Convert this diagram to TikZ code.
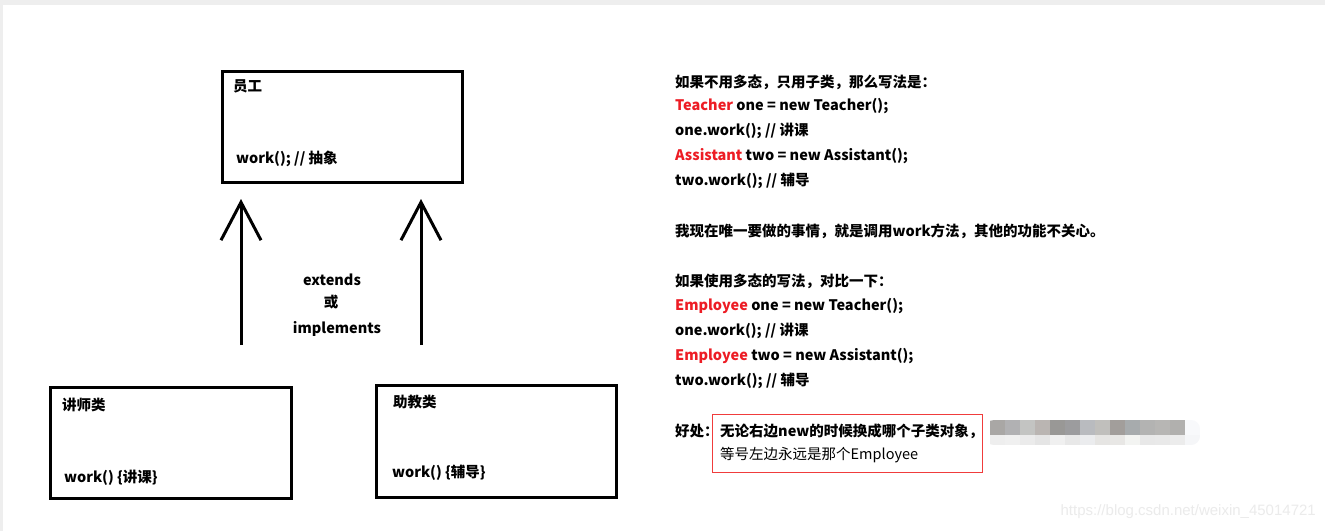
\documentclass[tikz,border=0pt]{standalone}
\usepackage{fontspec}
\setmainfont{Noto Sans CJK SC}
\newfontfamily\wmfont{Liberation Sans}
\usetikzlibrary{arrows.meta}
\definecolor{cred}{HTML}{ED1C24}
\definecolor{bxred}{HTML}{F03C3C}
\definecolor{edgegray}{HTML}{EEEEEE}
\definecolor{wm}{HTML}{EBEBEB}
\begin{document}
\begin{tikzpicture}[x=1pt,y=-1pt,
  umlbox/.style={draw=black, line width=3pt, fill=white, anchor=north west, inner sep=0pt},
  lbl/.style={anchor=west, inner sep=0pt, font=\fontsize{14.5}{16}\selectfont\bfseries},
  lblc/.style={anchor=center, inner sep=0pt, font=\fontsize{14.5}{16}\selectfont\bfseries},
  txt/.style={anchor=west, inner sep=0pt, font=\fontsize{14.5}{16}\selectfont\bfseries},
  arr/.style={line width=3pt, -{Straight Barb[length=38pt,width=40pt,line width=3pt]}}
]
\useasboundingbox (0,0) rectangle (1325,531);
\fill[white] (0,0) rectangle (1325,531);
\fill[edgegray] (0,0) rectangle (1325,5);
\fill[edgegray] (0,0) rectangle (3,531);

% boxes
\node[umlbox, minimum width=240pt, minimum height=111pt] (emp) at (220.5,69.5) {};
\node[umlbox, minimum width=241pt, minimum height=111pt] (tea) at (48.5,385.5) {};
\node[umlbox, minimum width=240pt, minimum height=112pt] (ast) at (374.5,383.5) {};

\node[lbl] (empt) at (233,86) {员工};
\node[lbl] (empm) at (236,159) {work(); // 抽象};
\node[lbl] (teat) at (62,405) {讲师类};
\node[lbl] (team) at (64,478) {work() \{讲课\}};
\node[lbl] (astt) at (393,402) {助教类};
\node[lbl] (astm) at (392,473) {work() \{辅导\}};

% arrows
\coordinate (a1s) at (241,345);
\coordinate (a1e) at (241,199);
\coordinate (a2s) at (421,345);
\coordinate (a2e) at (421,199);
\draw[arr] (a1s) -- (a1e);
\draw[arr] (a2s) -- (a2e);

\node[lblc] (ext) at (332,280) {extends};
\node[lblc] (huo) at (331,302) {或};
\node[lblc] (imp) at (337,329) {implements};

% right text
\node[txt] (r1) at (675,82) {如果不用多态，只用子类，那么写法是：};
\node[txt] (r2) at (675,106) {\textcolor{cred}{Teacher} one = new Teacher();};
\node[txt] (r3) at (675,131) {one.work(); // 讲课};
\node[txt] (r4) at (675,156) {\textcolor{cred}{Assistant} two = new Assistant();};
\node[txt] (r5) at (675,181) {two.work(); // 辅导};
\node[txt] (r6) at (675,231) {我现在唯一要做的事情，就是调用work方法，其他的功能不关心。};
\node[txt] (r7) at (675,281) {如果使用多态的写法，对比一下：};
\node[txt] (r8) at (675,306) {\textcolor{cred}{Employee} one = new Teacher();};
\node[txt] (r9) at (675,331) {one.work(); // 讲课};
\node[txt] (r10) at (675,356) {\textcolor{cred}{Employee} two = new Assistant();};
\node[txt] (r11) at (675,381) {two.work(); // 辅导};

% mosaic
\begin{scope}
\clip[rounded corners=9pt] (985,420) rectangle (1200,445);
\foreach \i/\c/\d in {0/A9A7A5/EEEEEE,1/B1B1B3/F0F0F0,2/C3C4C2/EBEBEB,3/BAB5B2/E5E5E5,4/999896/F0F0F0,5/9C9C9E/E8E8E8,6/B9BBBF/EBECEE,7/C0BFBC/E6E5E3,8/A29E9B/E8E7E5,9/A7ABAD/F3F4F2,10/B3B3B2/E8E8E8,11/B7B6B4/E9E9E9,12/B1B0AE/ECECEC,13/F8F9FB/F5F6F8}{
  \definecolor{mc}{HTML}{\c}\definecolor{md}{HTML}{\d}
  \fill[mc] (990+15*\i,420) rectangle (1005+15*\i,435);
  \fill[md] (990+15*\i,435) rectangle (1005+15*\i,445);
}
\end{scope}

\node[txt] (r12) at (675,431) {好处：};
\draw[color=bxred, line width=1pt] (712.5,414.5) rectangle (982.5,472.5);
\node[txt] (h1) at (720,431) {无论右边new的时候换成哪个子类对象，};
\node[anchor=west, inner sep=0pt, font=\fontsize{14.5}{16}\selectfont] (h2) at (720,455) {等号左边永远是那个Employee};

\node[anchor=east, inner sep=0pt, text=wm, font=\fontsize{15}{16}\selectfont\wmfont] (wmk) at (1316,512) {https://blog.csdn.net/weixin\_45014721};
\end{tikzpicture}
\end{document}
